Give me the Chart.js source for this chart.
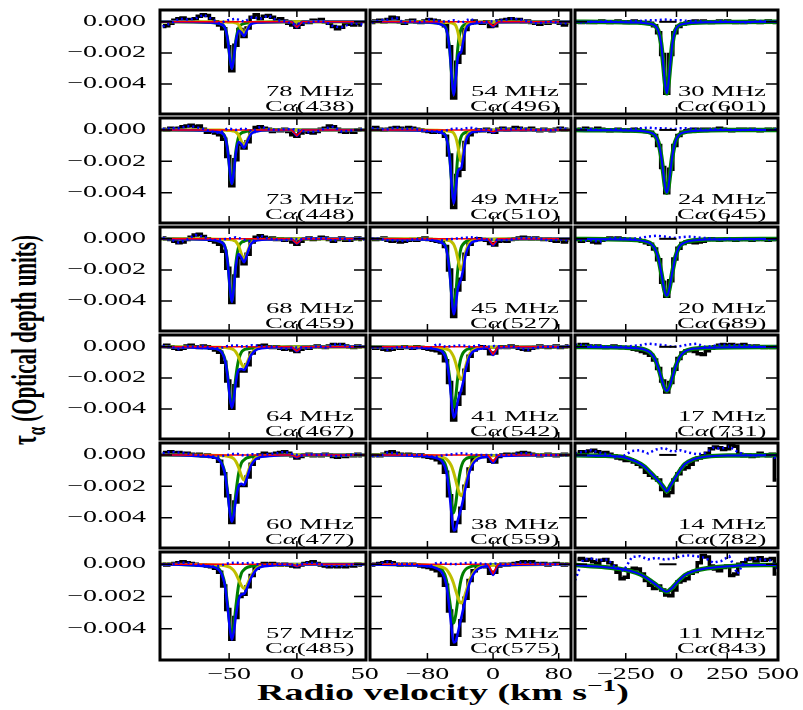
<!DOCTYPE html>
<html>
<head>
<meta charset="utf-8">
<script src="https://cdn.jsdelivr.net/npm/chart.js@4.4.0/dist/chart.umd.min.js"></script>
<style>
  html, body { margin: 0; padding: 0; background: #fff; }
  body { width: 803px; height: 710px; position: relative; overflow: hidden; }
  canvas { position: absolute; }
  .ttl { position: absolute; white-space: nowrap; text-align: center; color: #000; font-family: 'Liberation Serif', serif; }
  .ttl sup, .ttl sub { font-size: 0.72em; line-height: 0; }
</style>
</head>
<body>
<div class="ttl" id="ytitle" style="left:-106px; top:328px; width:260px; line-height:24px; font-size:21px; font-weight:bold; transform:rotate(-90deg) scaleY(1.75);">τ<sub>α</sub> (Optical depth units)</div>
<div class="ttl" id="xtitle" style="left:243px; top:681px; width:400px; line-height:24px; font-size:23px; font-weight:bold; transform:scaleX(1.65);">Radio velocity (km s<sup>−1</sup>)</div>
<script>
/**
 * Carbon recombination line stacks, 18 panels (values in units of 1e-3 optical depth)
 */

// panel captions, row by row
const panelFreq = ['78 MHz', '54 MHz', '30 MHz', '73 MHz', '49 MHz', '24 MHz', '68 MHz', '45 MHz', '20 MHz',
                   '64 MHz', '41 MHz', '17 MHz', '60 MHz', '38 MHz', '14 MHz', '57 MHz', '35 MHz', '11 MHz'];
const panelLine = ['Cα(438)', 'Cα(496)', 'Cα(601)', 'Cα(448)', 'Cα(510)', 'Cα(645)', 'Cα(459)', 'Cα(527)', 'Cα(689)',
                   'Cα(467)', 'Cα(542)', 'Cα(731)', 'Cα(477)', 'Cα(559)', 'Cα(782)', 'Cα(485)', 'Cα(575)', 'Cα(843)'];

// axes
const xRange1 = [-101, 51], xRange2 = [-150, 95], xRange3 = [-500, 500];
const xTicks1 = [-50, 0, 50], xTicks2 = [-80, 0, 80], xTicks3 = [-250, 0, 250, 500];
const yTicks = [0, -2, -4];
const yRange = [-5.93, 0.76];

// velocity grids (km/s)
const velBins1 = [-99, -96, -93, -90, -87, -84, -81, -78, -75, -72, -69, -66, -63, -60, -57, -54, -51, -48, -45, -42,
                  -39, -36, -33, -30, -27, -24, -21, -18, -15, -12, -9, -6, -3, 0, 3, 6, 9, 12, 15, 18,
                  21, 24, 27, 30, 33, 36, 39, 42, 45, 48];
const velBins2 = [-148, -143, -138, -133, -128, -123, -118, -113, -108, -103, -98, -93, -88, -83, -78, -73, -68, -63, -58, -53,
                  -48, -43, -38, -33, -28, -23, -18, -13, -8, -3, 2, 7, 12, 17, 22, 27, 32, 37, 42, 47,
                  52, 57, 62, 67, 72, 77, 82, 87, 92];
const velBins3 = [-488, -468, -448, -428, -408, -388, -368, -348, -328, -308, -288, -268, -248, -228, -208, -188, -168, -148, -128, -108,
                  -88, -68, -48, -28, -8, 12, 32, 52, 72, 92, 112, 132, 152, 172, 192, 212, 232, 252, 272, 292,
                  312, 332, 352, 372, 392, 412, 432, 452, 472, 492];
const fitGrid1 = [-101, -64, -57, -53, -51, -49.5, -48, -46.5, -45, -43, -41, -39, -37, -34, -29, -20, -4, 0, 4, 51];
const fitGrid2 = [-150, -90, -70, -62, -57, -53, -50.5, -48, -45.5, -43, -41, -39, -36.5, -33, -28, -20, -6, 0, 6, 95];
const fitGrid3 = [-500, -350, -260, -200, -160, -130, -108, -90, -76, -64, -56, -48, -40, -32, -20, -6, 14, 40, 80, 150, 280, 500];
const redGrid1 = [-101, -4, 0, 4, 51];
const redGrid2 = [-150, -6, 0, 6, 95];
const resGrid1 = [-99, -93, -87, -81, -75, -69, -63, -57, -51, -45, -39, -33, -27, -21, -15, -9, -3, 3, 9, 15, 21, 27, 33, 39, 45, 50];
const resGrid2 = [-148, -138, -128, -118, -108, -98, -88, -78, -68, -58, -48, -38, -28, -18, -8, 2, 12, 22, 32, 42, 52, 62, 72, 82, 92];
const resGrid3 = [-500, -460, -420, -380, -340, -300, -260, -220, -180, -140, -100, -60, -20, 20, 60, 100, 140, 180, 220, 260, 300, 340, 380, 420, 460, 500];
const dashGrid3 = [-85, 0];
const dashVals3 = [0, 0];

// ---- column 1 ----
const tau78 = [-0.3, -0.25, -0.1, 0.1, 0.2, 0.25, 0.15, 0.1, 0.2, 0.35, 0.45, 0.4, 0.2, 0.0, -0.2, -0.45, -1.6, -3.15, -1.5, -0.5,
               -0.95, -0.4, 0.3, 0.45, 0.2, 0.35, 0.4, 0.3, 0.1, 0.2, 0.05, -0.1, -0.2, -0.35, -0.15, 0.0, -0.05, 0.1, 0.05, 0.15,
               0.0, -0.1, -0.3, -0.45, -0.35, -0.1, -0.15, -0.2, -0.1, -0.2];
const green78 = [0, -0.04, -0.12, -0.39, -1.17, -2.28, -3.0, -2.28, -1.17, -0.39, -0.18, -0.12, -0.08, -0.05, -0.03, -0.01, 0, 0, 0, 0];
const yellow78 = [0, 0, -0.01, -0.01, -0.02, -0.02, -0.03, -0.04, -0.07, -0.18, -0.5, -0.8, -0.5, -0.1, -0.02, -0.01, 0, 0, 0, 0];
const total78 = [0, -0.04, -0.13, -0.4, -1.19, -2.3, -3.03, -2.32, -1.24, -0.57, -0.68, -0.92, -0.58, -0.15, -0.05, -0.02, 0, -0.35, 0, 0];
const red78 = [0, 0, -0.35, 0, 0];
const resid78 = [-0.3, -0.1, 0.2, 0.15, 0.2, 0.45, 0.2, -0.1, 0.1, 0.2, 0.0, 0.3, 0.2, 0.4, 0.1, 0.05, -0.15, -0.1, -0.05, 0.05, 0.0, -0.3, -0.35, -0.15, -0.1, -0.2];

const tau73 = [0.05, 0.0, 0.1, 0.05, 0.1, 0.2, 0.25, 0.3, 0.2, 0.25, 0.05, -0.15, -0.1, -0.2, -0.3, -0.6, -1.7, -3.55, -1.9, -0.9,
               -1.15, -0.75, -0.1, 0.15, 0.2, 0.1, 0.05, -0.1, 0.0, -0.05, 0.05, -0.1, -0.3, -0.4, -0.2, -0.05, -0.15, -0.2, -0.1, 0.05,
               0.1, 0.25, 0.2, 0.05, -0.1, -0.15, -0.05, -0.15, 0.0, 0.05];
const green73 = [0, -0.04, -0.14, -0.44, -1.33, -2.58, -3.4, -2.58, -1.33, -0.44, -0.2, -0.14, -0.09, -0.05, -0.03, -0.01, 0, 0, 0, 0];
const yellow73 = [0, -0.01, -0.01, -0.02, -0.03, -0.04, -0.05, -0.08, -0.13, -0.33, -0.71, -1.0, -0.71, -0.22, -0.05, -0.01, 0, 0, 0, 0];
const total73 = [0, -0.05, -0.15, -0.46, -1.36, -2.62, -3.45, -2.66, -1.46, -0.77, -0.91, -1.14, -0.8, -0.27, -0.08, -0.02, 0, -0.37, 0, 0];
const red73 = [0, 0, -0.37, 0, 0];
const resid73 = [0.05, 0.1, 0.1, 0.25, 0.2, 0.05, -0.1, -0.2, 0.1, 0.0, 0.1, -0.1, 0.2, 0.05, 0.0, 0.05, 0.05, -0.05, -0.15, -0.1, 0.1, 0.2, -0.1, -0.05, 0.0, 0.05];

const tau68 = [0.05, 0.0, -0.05, -0.15, -0.25, -0.2, -0.05, 0.1, 0.25, 0.3, 0.15, 0.0, -0.1, -0.2, -0.35, -0.8, -1.9, -4.1, -2.4, -1.2,
               -1.6, -1.0, -0.2, 0.1, 0.2, 0.1, 0.0, 0.05, -0.05, 0.0, -0.1, -0.05, -0.2, -0.35, -0.15, 0.0, 0.05, -0.05, 0.0, 0.1,
               0.05, -0.05, -0.15, -0.05, 0.05, -0.1, -0.1, 0.0, 0.05, -0.05];
const green68 = [0, -0.05, -0.16, -0.52, -1.56, -3.04, -4.0, -3.04, -1.56, -0.52, -0.24, -0.16, -0.1, -0.06, -0.04, -0.02, 0, 0, 0, 0];
const yellow68 = [0, -0.01, -0.02, -0.03, -0.04, -0.05, -0.07, -0.11, -0.18, -0.45, -0.96, -1.35, -0.96, -0.3, -0.06, -0.02, -0.01, 0, 0, 0];
const total68 = [0, -0.06, -0.18, -0.55, -1.6, -3.09, -4.07, -3.15, -1.74, -0.97, -1.2, -1.51, -1.06, -0.36, -0.1, -0.04, -0.01, -0.3, 0, 0];
const red68 = [0, 0, -0.3, 0, 0];
const resid68 = [0.05, -0.05, -0.25, -0.05, 0.25, 0.15, -0.1, -0.05, 0.0, 0.1, -0.05, -0.2, 0.2, 0.0, -0.05, -0.1, 0.0, -0.05, 0.05, 0.0, 0.05, -0.15, 0.05, -0.1, 0.05, -0.05];

const tau64 = [0.05, 0.1, 0.0, -0.1, -0.15, -0.1, 0.05, 0.1, 0.0, -0.05, 0.05, 0.0, -0.1, -0.2, -0.35, -1.0, -2.2, -3.95, -2.5, -1.55,
               -1.55, -1.15, -0.4, -0.1, 0.05, 0.1, 0.0, -0.05, 0.0, -0.1, -0.15, -0.1, -0.2, -0.3, -0.15, -0.05, -0.1, 0.0, 0.05, 0.0,
               -0.05, 0.05, 0.15, 0.1, 0.15, 0.05, 0.0, -0.05, 0.05, 0.0];
const green64 = [0, -0.07, -0.19, -0.84, -1.9, -3.12, -3.8, -3.12, -1.9, -0.84, -0.36, -0.19, -0.14, -0.09, -0.05, -0.02, 0, 0, 0, 0];
const yellow64 = [0, -0.02, -0.03, -0.05, -0.07, -0.1, -0.13, -0.2, -0.34, -0.65, -1.07, -1.3, -1.07, -0.48, -0.1, -0.03, -0.01, -0.01, -0.01, 0];
const total64 = [0, -0.09, -0.22, -0.89, -1.97, -3.22, -3.93, -3.32, -2.24, -1.49, -1.43, -1.49, -1.21, -0.57, -0.15, -0.05, -0.01, -0.28, -0.01, 0];
const red64 = [0, 0, -0.27, 0, 0];
const resid64 = [0.05, 0.0, -0.15, 0.05, 0.0, 0.05, -0.1, -0.1, 0.05, 0.1, 0.0, 0.1, 0.05, 0.0, 0.0, -0.15, -0.05, -0.05, -0.1, 0.05, -0.05, 0.15, 0.15, 0.0, 0.05, 0.0];

const tau60 = [0.1, 0.15, 0.2, 0.1, 0.15, 0.05, 0.1, 0.05, 0.0, 0.05, -0.05, 0.0, -0.1, -0.15, -0.4, -1.2, -2.6, -4.3, -3.0, -1.95,
               -1.95, -1.4, -0.6, -0.2, 0.0, 0.1, 0.05, 0.0, 0.1, 0.15, 0.2, 0.1, -0.05, -0.2, -0.1, 0.0, 0.05, -0.05, 0.0, -0.05,
               0.05, 0.0, -0.1, -0.15, -0.05, -0.1, 0.0, -0.05, 0.05, -0.05];
const green60 = [0, -0.1, -0.32, -1.19, -2.42, -3.53, -4.1, -3.53, -2.42, -1.19, -0.53, -0.32, -0.19, -0.12, -0.07, -0.03, 0, 0, 0, 0];
const yellow60 = [0, -0.02, -0.04, -0.06, -0.08, -0.12, -0.16, -0.24, -0.42, -0.8, -1.31, -1.6, -1.31, -0.59, -0.13, -0.04, -0.01, -0.01, -0.01, 0];
const total60 = [0, -0.12, -0.36, -1.25, -2.5, -3.65, -4.26, -3.77, -2.84, -1.99, -1.84, -1.92, -1.5, -0.71, -0.2, -0.07, -0.01, -0.16, -0.01, 0];
const red60 = [0, 0, -0.15, 0, 0];
const resid60 = [0.1, 0.2, 0.15, 0.1, 0.0, -0.05, -0.1, -0.1, 0.0, 0.1, -0.05, 0.05, 0.0, 0.05, 0.1, 0.2, 0.05, -0.05, 0.05, 0.0, 0.05, -0.1, -0.05, 0.0, 0.05, -0.05];

const tau57 = [0.0, -0.05, 0.0, 0.05, 0.1, 0.15, 0.1, 0.05, 0.0, -0.05, -0.05, -0.1, -0.15, -0.25, -0.5, -1.35, -2.8, -4.65, -3.3, -2.0,
               -1.85, -1.4, -0.7, -0.25, -0.05, 0.05, 0.0, 0.05, 0.0, -0.05, 0.0, -0.05, -0.1, -0.15, -0.05, 0.05, 0.1, 0.15, 0.05, -0.05,
               -0.1, -0.15, -0.1, -0.15, -0.1, -0.15, -0.05, -0.1, 0.0, -0.05];
const green57 = [0, -0.11, -0.34, -1.28, -2.6, -3.78, -4.4, -3.78, -2.6, -1.28, -0.57, -0.34, -0.21, -0.13, -0.07, -0.04, 0, 0, 0, 0];
const yellow57 = [0, -0.03, -0.06, -0.09, -0.14, -0.18, -0.27, -0.39, -0.59, -0.95, -1.31, -1.5, -1.31, -0.75, -0.2, -0.05, -0.02, -0.01, -0.01, 0];
const total57 = [0, -0.14, -0.4, -1.37, -2.74, -3.96, -4.67, -4.17, -3.19, -2.23, -1.88, -1.84, -1.52, -0.88, -0.27, -0.09, -0.02, -0.13, -0.01, 0];
const red57 = [0, 0, -0.12, 0, 0];
const resid57 = [0.0, 0.0, 0.1, 0.1, 0.0, -0.05, -0.15, -0.1, 0.05, 0.1, 0.05, 0.1, -0.05, 0.0, 0.0, 0.0, -0.05, 0.0, 0.1, 0.05, -0.1, -0.1, -0.1, -0.05, 0.0, -0.05];

// ---- column 2 ----
const tau54 = [-0.05, 0.05, 0.1, 0.0, 0.15, 0.3, 0.25, 0.0, -0.1, 0.05, 0.1, 0.0, -0.05, 0.05, 0.15, 0.1, 0.05, -0.05, -0.25, -1.6,
               -4.9, -2.6, -2.0, -0.5, -0.1, 0.05, -0.05, -0.1, 0.0, -0.3, -0.25, 0.05, 0.1, 0.15, 0.2, 0.1, 0.15, 0.0, 0.05, -0.05,
               -0.1, -0.15, -0.05, -0.1, 0.0, 0.05, -0.1, -0.2, -0.1];
const green54 = [0, -0.02, -0.07, -0.18, -0.46, -1.7, -3.4, -4.6, -3.4, -1.7, -0.87, -0.46, -0.25, -0.15, -0.09, -0.05, -0.02, -0.02, -0.01, 0];
const yellow54 = [0, 0, -0.01, -0.02, -0.03, -0.05, -0.07, -0.12, -0.24, -0.63, -1.17, -1.5, -1.04, -0.3, -0.07, -0.03, -0.01, -0.01, -0.01, 0];
const total54 = [0, -0.02, -0.08, -0.2, -0.49, -1.75, -3.47, -4.72, -3.64, -2.33, -2.04, -1.96, -1.29, -0.45, -0.16, -0.08, -0.03, -0.3, -0.02, 0];
const red54 = [0, 0, -0.27, 0, 0];
const resid54 = [-0.05, 0.1, 0.15, 0.25, -0.1, 0.1, -0.05, 0.15, 0.05, 0.0, 0.1, -0.05, 0.2, -0.05, 0.0, 0.05, 0.1, 0.2, 0.15, 0.05, -0.1, -0.05, 0.0, -0.1, -0.1];

const tau49 = [0.1, 0.15, 0.05, 0.0, 0.05, 0.1, 0.15, 0.1, 0.05, 0.15, 0.1, 0.05, 0.0, -0.05, -0.1, -0.15, -0.1, -0.15, -0.4, -1.6,
               -4.95, -2.9, -2.5, -0.8, -0.3, -0.1, 0.0, -0.05, 0.05, -0.1, -0.15, 0.05, 0.1, 0.0, 0.05, 0.15, 0.1, 0.0, 0.05, 0.1,
               0.0, -0.05, 0.05, 0.0, -0.05, 0.05, 0.1, 0.0, 0.05];
const green49 = [0, -0.02, -0.07, -0.18, -0.45, -1.67, -3.33, -4.5, -3.33, -1.67, -0.86, -0.45, -0.25, -0.15, -0.09, -0.05, -0.02, -0.02, -0.01, 0];
const yellow49 = [0, -0.01, -0.02, -0.03, -0.05, -0.08, -0.11, -0.2, -0.46, -1.0, -1.64, -2.0, -1.48, -0.52, -0.13, -0.04, -0.02, -0.01, -0.01, 0];
const total49 = [0, -0.03, -0.09, -0.21, -0.5, -1.75, -3.44, -4.7, -3.79, -2.67, -2.5, -2.45, -1.73, -0.67, -0.22, -0.09, -0.04, -0.15, -0.02, 0];
const red49 = [0, 0, -0.12, 0, 0];
const resid49 = [0.1, 0.05, 0.05, 0.15, 0.05, 0.1, 0.0, -0.1, -0.1, -0.05, 0.1, 0.05, 0.15, 0.05, 0.05, 0.0, 0.1, 0.05, 0.1, 0.05, 0.0, 0.05, -0.05, 0.1, 0.05];

const tau45 = [0.0, -0.05, 0.0, 0.05, -0.1, -0.15, -0.1, -0.2, -0.15, -0.1, -0.05, -0.1, 0.0, 0.05, -0.05, -0.1, -0.15, -0.2, -0.5, -2.0,
               -5.0, -3.3, -2.6, -1.0, -0.35, -0.1, 0.0, -0.05, -0.1, -0.3, -0.4, -0.15, -0.1, -0.15, -0.05, 0.0, 0.05, 0.1, 0.05, 0.0,
               0.05, 0.0, -0.05, 0.0, -0.1, -0.15, -0.05, -0.2, -0.1];
const green45 = [0, -0.03, -0.09, -0.22, -0.59, -1.98, -3.56, -4.5, -3.56, -1.98, -1.13, -0.59, -0.35, -0.18, -0.12, -0.05, -0.03, -0.02, -0.02, 0];
const yellow45 = [0, -0.01, -0.02, -0.05, -0.08, -0.12, -0.2, -0.36, -0.7, -1.26, -1.74, -2.0, -1.64, -0.78, -0.22, -0.07, -0.02, -0.02, -0.01, 0];
const total45 = [0, -0.04, -0.11, -0.27, -0.67, -2.1, -3.76, -4.86, -4.26, -3.24, -2.87, -2.59, -1.99, -0.96, -0.34, -0.12, -0.05, -0.41, -0.03, 0];
const red45 = [0, 0, -0.37, 0, 0];
const resid45 = [0.0, 0.0, -0.1, -0.1, -0.15, -0.05, 0.0, -0.05, -0.15, -0.05, 0.0, 0.05, 0.1, 0.05, -0.05, -0.05, -0.1, -0.05, 0.05, 0.05, 0.05, -0.05, -0.1, -0.05, -0.1];

const tau41 = [-0.05, -0.1, -0.05, -0.15, -0.2, -0.15, -0.05, -0.1, 0.0, -0.05, -0.1, 0.0, -0.05, -0.1, -0.15, -0.2, -0.25, -0.4, -0.9, -2.3,
               -4.7, -3.7, -3.0, -1.5, -0.6, -0.2, -0.1, 0.0, -0.1, -0.45, -0.4, -0.05, 0.0, -0.05, 0.05, 0.0, -0.1, -0.15, -0.2, -0.1,
               -0.05, 0.05, 0.0, -0.05, 0.0, 0.05, -0.05, 0.0, 0.05];
const green41 = [0, -0.03, -0.1, -0.23, -0.7, -1.95, -3.2, -3.9, -3.2, -1.95, -1.17, -0.7, -0.39, -0.2, -0.12, -0.06, -0.03, -0.02, -0.02, 0];
const yellow41 = [-0.01, -0.02, -0.05, -0.08, -0.14, -0.23, -0.4, -0.65, -1.05, -1.55, -1.95, -2.1, -1.89, -1.16, -0.42, -0.12, -0.04, -0.03, -0.02, 0];
const total41 = [-0.01, -0.05, -0.15, -0.31, -0.84, -2.18, -3.6, -4.55, -4.25, -3.5, -3.12, -2.8, -2.28, -1.36, -0.54, -0.18, -0.07, -0.52, -0.04, 0];
const red41 = [0, 0, -0.47, 0, 0];
const resid41 = [-0.05, -0.05, -0.2, -0.05, 0.0, -0.1, -0.05, -0.15, 0.2, 0.0, 0.05, 0.1, 0.0, 0.1, 0.0, 0.05, 0.0, 0.05, -0.1, -0.2, -0.05, 0.0, 0.0, -0.05, 0.05];

const tau38 = [-0.05, 0.0, -0.05, 0.05, 0.15, 0.2, 0.1, 0.05, 0.0, 0.05, 0.0, -0.05, 0.0, -0.1, -0.15, -0.2, -0.3, -0.5, -1.1, -2.6,
               -4.85, -4.3, -3.4, -2.0, -0.9, -0.3, -0.1, -0.05, -0.1, -0.4, -0.45, -0.1, 0.0, 0.05, 0.0, 0.05, 0.1, 0.15, 0.1, 0.05,
               0.0, -0.05, 0.0, 0.05, 0.0, -0.05, 0.0, 0.05, 0.0];
const green38 = [0, -0.03, -0.11, -0.29, -0.81, -2.04, -3.11, -3.7, -3.11, -2.04, -1.33, -0.81, -0.44, -0.24, -0.15, -0.07, -0.03, -0.03, -0.03, 0];
const yellow38 = [-0.01, -0.03, -0.08, -0.14, -0.26, -0.49, -0.73, -1.12, -1.61, -2.13, -2.47, -2.6, -2.42, -1.72, -0.81, -0.23, -0.08, -0.05, -0.04, 0];
const total38 = [-0.01, -0.06, -0.19, -0.43, -1.07, -2.53, -3.84, -4.82, -4.72, -4.17, -3.8, -3.41, -2.86, -1.96, -0.96, -0.3, -0.11, -0.5, -0.07, 0];
const red38 = [0, 0, -0.42, 0, 0];
const resid38 = [-0.05, -0.05, 0.15, 0.1, 0.0, 0.0, 0.0, -0.1, -0.1, 0.0, 0.05, 0.1, 0.05, 0.0, 0.0, 0.0, 0.0, 0.0, 0.1, 0.1, 0.0, 0.0, 0.0, 0.0, 0.0];

const tau35 = [-0.05, 0.0, 0.05, 0.1, 0.15, 0.1, 0.0, -0.05, 0.0, -0.05, 0.0, -0.05, -0.1, -0.15, -0.2, -0.3, -0.4, -0.7, -1.3, -2.9,
               -4.95, -4.4, -3.5, -2.1, -1.0, -0.4, -0.15, -0.1, -0.15, -0.55, -0.5, -0.1, 0.0, -0.05, 0.0, 0.05, 0.1, 0.15, 0.1, 0.15,
               0.05, 0.0, 0.05, -0.05, 0.0, 0.05, 0.0, -0.05, 0.0];
const green35 = [-0.01, -0.04, -0.13, -0.35, -0.95, -2.23, -3.14, -3.65, -3.14, -2.23, -1.5, -0.95, -0.55, -0.29, -0.16, -0.08, -0.04, -0.03, -0.02, 0];
const yellow35 = [-0.01, -0.04, -0.1, -0.18, -0.31, -0.6, -0.86, -1.2, -1.63, -2.04, -2.3, -2.4, -2.26, -1.7, -0.91, -0.29, -0.09, -0.06, -0.05, 0];
const total35 = [-0.02, -0.08, -0.23, -0.53, -1.26, -2.83, -4.0, -4.85, -4.77, -4.27, -3.8, -3.35, -2.81, -1.99, -1.07, -0.37, -0.13, -0.66, -0.07, 0];
const red35 = [0, 0, -0.57, 0, 0];
const resid35 = [-0.05, 0.05, 0.15, 0.0, 0.0, 0.0, -0.1, -0.15, 0.1, 0.05, 0.0, 0.05, 0.1, 0.05, 0.0, 0.05, 0.0, 0.0, 0.1, 0.1, 0.05, 0.05, 0.0, 0.0, 0.0];

// ---- column 3 ----
const tau30 = [0.0, -0.05, 0.0, -0.05, -0.05, 0.0, 0.05, 0.0, -0.05, 0.0, 0.05, 0.0, -0.05, 0.0, 0.05, 0.0, -0.05, -0.05, -0.1, -0.25,
               -0.7, -2.1, -4.6, -2.1, -0.7, -0.3, -0.15, -0.1, 0.0, 0.05, 0.0, 0.05, 0.0, -0.05, 0.0, 0.05, 0.0, 0.05, 0.0, -0.05,
               0.0, -0.05, 0.0, 0.05, 0.0, -0.05, 0.0, 0.05, 0.0, -0.05];
const fit30 = [0, -0.01, -0.02, -0.04, -0.07, -0.13, -0.23, -0.55, -1.38, -2.9, -4.0, -4.6, -4.0, -2.9, -1.38, -0.55, -0.22, -0.12, -0.06, -0.02, -0.01, 0];
const resid30 = [0.0, -0.05, 0.0, 0.0, 0.05, 0.0, 0.0, 0.05, 0.05, 0.1, 0.1, 0.15, 0.1, 0.1, 0.05, 0.05, 0.0, 0.0, 0.05, 0.0, 0.0, -0.05, 0.0, 0.05, 0.0, 0.0];

const tau24 = [0.05, 0.0, 0.1, 0.05, 0.0, 0.1, 0.05, 0.0, -0.05, 0.0, 0.05, 0.0, -0.05, 0.0, 0.05, 0.0, -0.05, -0.1, -0.15, -0.35,
               -1.0, -2.4, -4.0, -2.5, -1.0, -0.35, -0.15, -0.05, 0.0, 0.05, 0.0, 0.05, 0.05, 0.0, 0.05, 0.1, 0.05, 0.0, -0.05, 0.0,
               0.05, 0.05, 0.0, 0.05, 0.0, -0.05, 0.0, 0.05, 0.0, 0.05];
const fit24 = [-0.01, -0.02, -0.03, -0.05, -0.09, -0.16, -0.32, -0.76, -1.64, -2.84, -3.64, -4.0, -3.64, -2.84, -1.64, -0.76, -0.3, -0.14, -0.07, -0.03, -0.01, 0];
const resid24 = [0.05, 0.05, 0.05, 0.0, 0.0, 0.05, 0.0, 0.05, 0.1, 0.15, 0.1, 0.1, 0.05, 0.1, 0.1, 0.05, 0.0, 0.05, 0.05, 0.0, 0.0, 0.0, 0.05, 0.0, 0.0, 0.05];

const tau20 = [-0.05, -0.15, 0.0, -0.1, -0.2, -0.25, -0.1, 0.0, 0.05, 0.0, 0.05, 0.0, -0.05, -0.05, -0.1, -0.1, -0.15, -0.25, -0.35, -0.65,
               -1.35, -2.8, -3.7, -2.7, -1.3, -0.6, -0.3, -0.2, -0.2, -0.25, -0.2, -0.15, -0.05, 0.0, -0.05, -0.1, -0.05, 0.0, -0.05, -0.1,
               -0.05, 0.0, -0.05, -0.1, -0.05, 0.0, -0.05, -0.1, -0.05, 0.0];
const fit20 = [-0.01, -0.02, -0.04, -0.08, -0.15, -0.28, -0.59, -1.21, -2.12, -3.0, -3.48, -3.66, -3.48, -3.0, -2.12, -1.21, -0.51, -0.24, -0.11, -0.04, -0.02, -0.01];
const resid20 = [-0.05, -0.1, -0.1, -0.2, 0.0, 0.05, 0.0, 0.0, 0.05, 0.15, 0.2, 0.15, 0.05, 0.1, 0.15, 0.1, 0.05, 0.0, -0.05, 0.0, -0.05, 0.0, -0.05, 0.0, -0.05, 0.0];

const tau17 = [0.15, 0.1, 0.15, 0.05, 0.0, 0.05, 0.0, -0.05, 0.0, 0.05, 0.0, -0.05, -0.05, -0.1, -0.15, -0.2, -0.3, -0.4, -0.55, -0.85,
               -1.4, -2.2, -2.9, -2.3, -1.45, -0.75, -0.4, -0.25, -0.2, -0.3, -0.45, -0.5, -0.25, -0.1, 0.0, 0.1, 0.15, 0.1, 0.15, 0.05,
               0.1, 0.15, 0.05, 0.0, 0.05, 0.0, -0.05, 0.0, -0.05, 0.0];
const fit17 = [-0.01, -0.03, -0.05, -0.09, -0.17, -0.36, -0.74, -1.33, -1.96, -2.47, -2.73, -2.84, -2.73, -2.47, -1.96, -1.33, -0.71, -0.31, -0.13, -0.06, -0.02, -0.01];
const resid17 = [0.15, 0.1, 0.05, 0.05, 0.0, 0.0, 0.0, 0.05, 0.1, 0.2, 0.15, 0.1, 0.0, 0.05, 0.15, 0.2, 0.0, 0.05, 0.15, 0.1, 0.1, 0.1, 0.05, 0.0, 0.0, 0.0];

const tau14 = [0.1, 0.2, 0.15, 0.25, 0.3, 0.2, 0.1, 0.15, 0.05, -0.05, -0.2, -0.25, -0.35, -0.3, -0.45, -0.6, -0.75, -1.1, -1.3, -1.45,
               -1.6, -2.2, -2.6, -2.4, -1.6, -1.2, -0.9, -0.8, -0.6, -0.3, -0.2, -0.05, 0.1, 0.4, 0.5, 0.45, 0.35, 0.4, 0.65, 0.55,
               0.05, -0.05, 0.0, -0.1, -0.05, 0.1, 0.0, -0.05, 0.05, -1.6];
const fit14 = [-0.02, -0.06, -0.15, -0.42, -0.72, -1.1, -1.4, -1.65, -1.85, -2.05, -2.2, -2.33, -2.2, -2.0, -1.75, -1.45, -1.05, -0.6, -0.3, -0.1, -0.03, -0.01];
const resid14 = [0.1, 0.2, 0.3, 0.15, 0.05, -0.15, -0.05, 0.25, 0.3, 0.1, 0.35, 0.45, 0.2, 0.3, 0.15, 0.05, 0.1, 0.45, 0.4, 0.55, 0.2, 0.0, -0.05, 0.0, 0.0, -0.3];

const tau11 = [0.3, 0.35, 0.25, 0.3, 0.15, 0.05, 0.25, 0.3, 0.1, -0.1, -0.5, -0.9, -0.8, -0.35, -0.25, -0.3, -0.6, -1.0, -1.3, -1.5,
               -1.35, -1.6, -1.9, -1.95, -1.6, -1.1, -1.0, -0.9, -0.55, -0.45, 0.1, 0.55, 0.45, -0.1, -0.3, -0.4, -0.2, -0.1, -0.7, -0.6,
               0.0, 0.1, 0.3, 0.35, 0.2, 0.4, 0.25, 0.3, 0.35, -0.6];
const fit11 = [-0.05, -0.18, -0.33, -0.52, -0.75, -1.0, -1.2, -1.38, -1.52, -1.62, -1.68, -1.7, -1.66, -1.58, -1.45, -1.25, -0.98, -0.68, -0.45, -0.25, -0.1, -0.04];
const resid11 = [-1.0, 0.3, 0.35, 0.25, 0.3, -0.2, -0.4, 0.45, 0.5, 0.3, 0.4, 0.3, 0.35, 0.5, 0.55, 0.5, 0.4, 0.1, 0.2, 0.5, -0.6, 0.3, 0.35, 0.3, 0.25, -0.3];

// panel table, row by row (3 columns)
const panels = [
  { tau: tau78, green: green78, yellow: yellow78, red: red78, total: total78, resid: resid78 },
  { tau: tau54, green: green54, yellow: yellow54, red: red54, total: total54, resid: resid54 },
  { tau: tau30, fit: fit30, resid: resid30 },
  { tau: tau73, green: green73, yellow: yellow73, red: red73, total: total73, resid: resid73 },
  { tau: tau49, green: green49, yellow: yellow49, red: red49, total: total49, resid: resid49 },
  { tau: tau24, fit: fit24, resid: resid24 },
  { tau: tau68, green: green68, yellow: yellow68, red: red68, total: total68, resid: resid68 },
  { tau: tau45, green: green45, yellow: yellow45, red: red45, total: total45, resid: resid45 },
  { tau: tau20, fit: fit20, resid: resid20 },
  { tau: tau64, green: green64, yellow: yellow64, red: red64, total: total64, resid: resid64 },
  { tau: tau41, green: green41, yellow: yellow41, red: red41, total: total41, resid: resid41 },
  { tau: tau17, fit: fit17, resid: resid17 },
  { tau: tau60, green: green60, yellow: yellow60, red: red60, total: total60, resid: resid60 },
  { tau: tau38, green: green38, yellow: yellow38, red: red38, total: total38, resid: resid38 },
  { tau: tau14, fit: fit14, resid: resid14 },
  { tau: tau57, green: green57, yellow: yellow57, red: red57, total: total57, resid: resid57 },
  { tau: tau35, green: green35, yellow: yellow35, red: red35, total: total35, resid: resid35 },
  { tau: tau11, fit: fit11, resid: resid11 }
];

const colBins = [velBins1, velBins2, velBins3];
const colFit = [fitGrid1, fitGrid2, fitGrid3];
const colRed = [redGrid1, redGrid2, null];
const colRes = [resGrid1, resGrid2, resGrid3];
const colRange = [xRange1, xRange2, xRange3];
const colTicks = [xTicks1, xTicks2, xTicks3];

// layout of the grid (page pixels)
const COL_L = [160, 366, 571];
const COL_R = [366, 571, 778];
const ROW_Y = [10, 118, 227, 335, 443, 552, 660];

const COLORS = { data: '#000000', green: '#008000', yellow: '#bfbf00', red: '#ff0000', blue: '#0000ff' };
const FONT = '"Liberation Serif", "Times New Roman", serif';

function pts(xs, ys) {
  return xs.map((x, i) => ({ x: x, y: ys[i] }));
}

// text drawn with a horizontal stretch, like the wide CM glyphs of the original
function stretchText(ctx, text, x, y, sx, align) {
  ctx.save();
  ctx.translate(x, y);
  ctx.scale(sx, 1);
  ctx.textAlign = align;
  ctx.fillText(text, 0, 0);
  ctx.restore();
}

// "Cα(438)" with an italic alpha, left aligned
function lineLabel(ctx, text, x, y, sx, size) {
  const parts = [[text.slice(0, 1), ''], [text.slice(1, 2), 'italic '], [text.slice(2), '']];
  let cx = x;
  parts.forEach(([s, style]) => {
    ctx.font = style + size + 'px ' + FONT;
    stretchText(ctx, s, cx, y, sx, 'left');
    cx += ctx.measureText(s).width * sx;
  });
}

function fmtY(v) {
  const s = (Math.abs(v) / 1000).toFixed(3);
  return v < 0 ? '\u2212' + s : s;
}

function fmtX(v) {
  return v < 0 ? '\u2212' + Math.abs(v) : String(v);
}

/**
 * Frame, inward ticks, tick labels and panel caption
 */
const panelFrame = {
  id: 'panelFrame',
  afterDatasetsDraw(chart, args, o) {
    const { ctx, chartArea: a } = chart;
    const xs = chart.scales.x, ys = chart.scales.y;
    ctx.save();
    ctx.strokeStyle = '#000';
    ctx.lineWidth = 1.5;
    ctx.beginPath();
    xs.ticks.forEach(t => {
      const px = xs.getPixelForValue(t.value);
      if (px < a.left + 2.5 || px > a.right - 2.5) return;
      ctx.moveTo(px, a.top); ctx.lineTo(px, a.top + 7);
      ctx.moveTo(px, a.bottom); ctx.lineTo(px, a.bottom - 7);
    });
    ys.ticks.forEach(t => {
      const py = ys.getPixelForValue(t.value);
      ctx.moveTo(a.left, py); ctx.lineTo(a.left + 12, py);
      ctx.moveTo(a.right, py); ctx.lineTo(a.right - 12, py);
    });
    ctx.stroke();
    ctx.lineWidth = 3;
    ctx.strokeRect(a.left, a.top, a.right - a.left, a.bottom - a.top);

    ctx.fillStyle = '#000';
    ctx.textBaseline = 'alphabetic';
    ctx.font = '14px ' + FONT;
    stretchText(ctx, o.freq, a.right - 100, a.top + 86, 1.9, 'left');
    lineLabel(ctx, o.line, a.right - 101, a.top + 101, 1.9, 14);

    ctx.font = '16px ' + FONT;
    ctx.textBaseline = 'middle';
    if (o.yLabels) {
      ys.ticks.forEach(t => {
        stretchText(ctx, fmtY(t.value), a.left - 14, ys.getPixelForValue(t.value), 1.75, 'right');
      });
    }
    if (o.xLabels) {
      xs.ticks.forEach(t => {
        stretchText(ctx, fmtX(t.value), xs.getPixelForValue(t.value), a.bottom + 15, 1.75, 'center');
      });
    }
    ctx.restore();
  }
};

function buildDatasets(p, c) {
  const ds = [];
  if (c < 2) {
    ds.push({ label: 'residual', data: pts(colRes[c], p.resid), borderColor: COLORS.blue, borderWidth: 2.5, borderDash: [2, 3], order: 0 });
    ds.push({ label: 'red', data: pts(colRed[c], p.red), borderColor: COLORS.red, borderWidth: 1.5, order: 1 });
    ds.push({ label: 'total', data: pts(colFit[c], p.total), borderColor: COLORS.blue, borderWidth: 2.5, cubicInterpolationMode: 'monotone', order: 2 });
    ds.push({ label: 'yellow', data: pts(colFit[c], p.yellow), borderColor: COLORS.yellow, borderWidth: 3, cubicInterpolationMode: 'monotone', order: 3 });
    ds.push({ label: 'green', data: pts(colFit[c], p.green), borderColor: COLORS.green, borderWidth: 3, cubicInterpolationMode: 'monotone', order: 4 });
  } else {
    ds.push({ label: 'zero', data: pts(dashGrid3, dashVals3), borderColor: '#000', borderWidth: 2, order: 0 });
    ds.push({ label: 'residual', data: pts(colRes[c], p.resid), borderColor: COLORS.blue, borderWidth: 2.5, borderDash: [2, 3], order: 1 });
    ds.push({ label: 'total', data: pts(colFit[c], p.fit), borderColor: COLORS.blue, borderWidth: 2, cubicInterpolationMode: 'monotone', order: 2 });
    ds.push({ label: 'green', data: pts(colFit[c], p.fit), borderColor: COLORS.green, borderWidth: 4.5, cubicInterpolationMode: 'monotone', order: 4 });
  }
  ds.push({ label: 'data', data: pts(colBins[c], p.tau), borderColor: COLORS.data, borderWidth: 3.5, stepped: 'middle', order: 5 });
  ds.forEach(d => { d.pointRadius = 0; d.fill = false; });
  return ds;
}

function makePanel(p, i) {
  const c = i % 3, r = Math.floor(i / 3);
  const L = COL_L[c], R = COL_R[c], T = ROW_Y[r], B = ROW_Y[r + 1];
  const bottomRow = r === 5;
  const x0 = c === 0 ? 0 : L - 4;
  const x1 = bottomRow ? Math.min(802, R + 24) : R + 4;
  const y0 = T - 4;
  const y1 = bottomRow ? 710 : B + 4;

  const cv = document.createElement('canvas');
  cv.width = x1 - x0;
  cv.height = y1 - y0;
  cv.style.left = x0 + 'px';
  cv.style.top = y0 + 'px';
  cv.style.width = (x1 - x0) + 'px';
  cv.style.height = (y1 - y0) + 'px';
  document.body.appendChild(cv);

  return new Chart(cv, {
    type: 'line',
    data: { datasets: buildDatasets(p, c) },
    plugins: [panelFrame],
    options: {
      responsive: false,
      animation: false,
      events: [],
      devicePixelRatio: 1,
      layout: { padding: { left: c === 0 ? 0 : 4, right: x1 - R, top: 4, bottom: bottomRow ? 0 : 4 } },
      plugins: {
        legend: { display: false },
        tooltip: { enabled: false },
        panelFrame: { freq: panelFreq[i], line: panelLine[i], yLabels: c === 0, xLabels: bottomRow }
      },
      scales: {
        x: {
          type: 'linear',
          min: colRange[c][0],
          max: colRange[c][1],
          display: bottomRow,
          grid: { display: false },
          border: { display: false },
          ticks: { display: false },
          afterBuildTicks: s => { s.ticks = colTicks[c].map(v => ({ value: v })); },
          afterFit: s => { s.height = y1 - B; }
        },
        y: {
          type: 'linear',
          min: yRange[0],
          max: yRange[1],
          display: c === 0,
          grid: { display: false },
          border: { display: false },
          ticks: { display: false },
          afterBuildTicks: s => { s.ticks = yTicks.map(v => ({ value: v })); },
          afterFit: s => { s.width = L - x0; }
        }
      }
    }
  });
}

panels.forEach(makePanel);
</script>
</body>
</html>
